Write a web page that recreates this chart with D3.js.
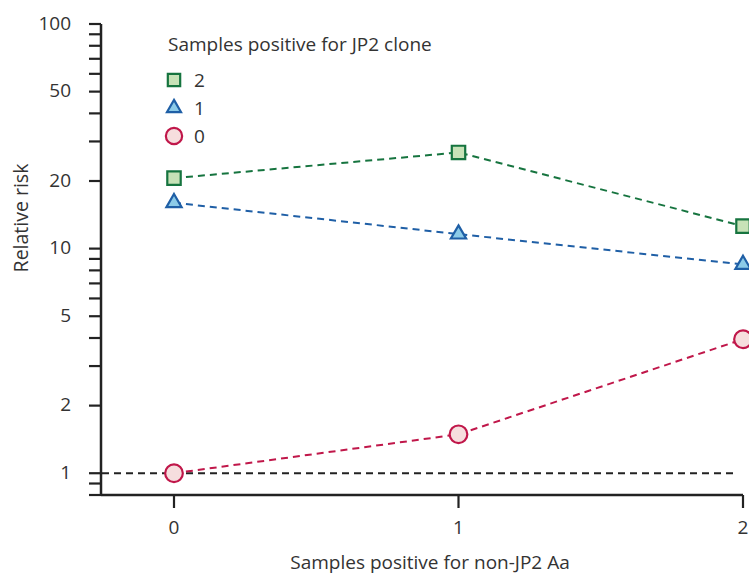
<!DOCTYPE html>
<html>
<head>
<meta charset="utf-8">
<script src="https://cdn.jsdelivr.net/npm/d3@7"></script>
<style>
  html, body { margin: 0; padding: 0; background: #fff; }
  svg { display: block; font-family: "Open Sans", "Noto Sans", sans-serif; }
</style>
</head>
<body>
<svg id="chart" width="749" height="576"></svg>
<script>
// ---- data ----
const xCategories = [0, 1, 2];
const xTickLabels = ["0", "1", "2"];
const seriesNames = ["2", "1", "0"];
const jp2Two  = [20.6, 26.8, 12.6];
const jp2One  = [16.0, 11.6, 8.5];
const jp2Zero = [1.0, 1.49, 3.95];
const yTickLabels = [1, 2, 5, 10, 20, 50, 100];
const yMinorTicks = [0.8, 0.9, 3, 4, 6, 7, 8, 9, 30, 40, 60, 70, 80, 90];
const referenceValue = [1];

const legendTitle = "Samples positive for JP2 clone";
const xTitle = "Samples positive for non-JP2 Aa";
const yTitle = "Relative risk";

// ---- styles ----
const styles = [
  { name: seriesNames[0], values: jp2Two,  symbol: d3.symbolSquare,   size: 180, stroke: "#16743f", fill: "#c7e2b7", line: "#16743f" },
  { name: seriesNames[1], values: jp2One,  symbol: d3.symbolTriangle, size: 100, stroke: "#1f5fa6", fill: "#8ccbe8", line: "#1f5fa6" },
  { name: seriesNames[2], values: jp2Zero, symbol: d3.symbolCircle,   size: 245, stroke: "#c0174a", fill: "#f6dede", line: "#c0174a" }
];

const svg = d3.select("#chart");
const textColor = "#333";
const fs = 19;

const x = d3.scaleLinear().domain([0, 2]).range([174, 743]);
const y = d3.scaleLog().domain([0.8, 100]).range([495, 24]);
const axisLeftX = 101;
const axisBottomY = y(0.8);

// y axis
const yAxisG = svg.append("g").attr("transform", `translate(${axisLeftX},0)`);
yAxisG.append("line")
  .attr("x1", 0).attr("x2", 0).attr("y1", y(100)).attr("y2", axisBottomY)
  .attr("stroke", "#222").attr("stroke-width", 2.5);
const allYTicks = yTickLabels.concat(yMinorTicks);
yAxisG.selectAll("line.tick").data(allYTicks).enter().append("line")
  .attr("class", "tick")
  .attr("x1", -12).attr("x2", 0)
  .attr("y1", d => y(d)).attr("y2", d => y(d))
  .attr("stroke", "#222").attr("stroke-width", 2.2);
yAxisG.selectAll("text").data(yTickLabels).enter().append("text")
  .attr("x", -30).attr("y", d => y(d)).attr("dy", "0.3em")
  .attr("text-anchor", "end").attr("font-size", fs).attr("fill", textColor)
  .text(d => d);

// x axis
const xAxisG = svg.append("g").attr("transform", `translate(0,${axisBottomY})`);
xAxisG.append("line")
  .attr("x1", axisLeftX).attr("x2", x(2)).attr("y1", 0).attr("y2", 0)
  .attr("stroke", "#222").attr("stroke-width", 2.5);
xAxisG.selectAll("line.tick").data(xCategories).enter().append("line")
  .attr("class", "tick")
  .attr("x1", d => x(d)).attr("x2", d => x(d)).attr("y1", 0).attr("y2", 13)
  .attr("stroke", "#222").attr("stroke-width", 2.2);
xAxisG.selectAll("text").data(xCategories).enter().append("text")
  .attr("x", d => x(d)).attr("y", 39)
  .attr("text-anchor", "middle").attr("font-size", fs).attr("fill", textColor)
  .text((d, i) => xTickLabels[i]);

// axis titles
svg.append("text")
  .attr("x", 430).attr("y", 569)
  .attr("text-anchor", "middle").attr("font-size", fs).attr("fill", textColor)
  .text(xTitle);
svg.append("text")
  .attr("transform", `translate(28,218) rotate(-90)`)
  .attr("text-anchor", "middle").attr("font-size", fs + 0.5).attr("fill", textColor)
  .text(yTitle);

// reference line
svg.selectAll("line.ref").data(referenceValue).enter().append("line")
  .attr("class", "ref")
  .attr("x1", axisLeftX + 1).attr("x2", 738)
  .attr("y1", d => y(d)).attr("y2", d => y(d))
  .attr("stroke", "#222").attr("stroke-width", 2).attr("stroke-dasharray", "7,5");

// series lines
const lineGen = d3.line().x((d, i) => x(xCategories[i])).y(d => y(d));
styles.forEach(s => {
  svg.append("path")
    .attr("d", lineGen(s.values))
    .attr("fill", "none").attr("stroke", s.line)
    .attr("stroke-width", 2).attr("stroke-dasharray", "7,5");
});

// markers
styles.forEach(s => {
  svg.append("g").selectAll("path").data(s.values).enter().append("path")
    .attr("d", d3.symbol().type(s.symbol).size(s.size))
    .attr("transform", (d, i) => `translate(${x(xCategories[i])},${y(d)})`)
    .attr("fill", s.fill).attr("stroke", s.stroke).attr("stroke-width", 2.2);
});

// legend
const legend = svg.append("g");
legend.append("text")
  .attr("x", 168).attr("y", 51)
  .attr("font-size", fs).attr("fill", textColor)
  .text(legendTitle);
styles.forEach((s, i) => {
  const cy = 80 + i * 28;
  legend.append("path")
    .attr("d", d3.symbol().type(s.symbol).size(s.size * 0.85))
    .attr("transform", `translate(174,${cy})`)
    .attr("fill", s.fill).attr("stroke", s.stroke).attr("stroke-width", 2.2);
  legend.append("text")
    .attr("x", 194).attr("y", cy).attr("dy", "0.36em")
    .attr("font-size", fs).attr("fill", textColor)
    .text(s.name);
});
</script>
</body>
</html>
